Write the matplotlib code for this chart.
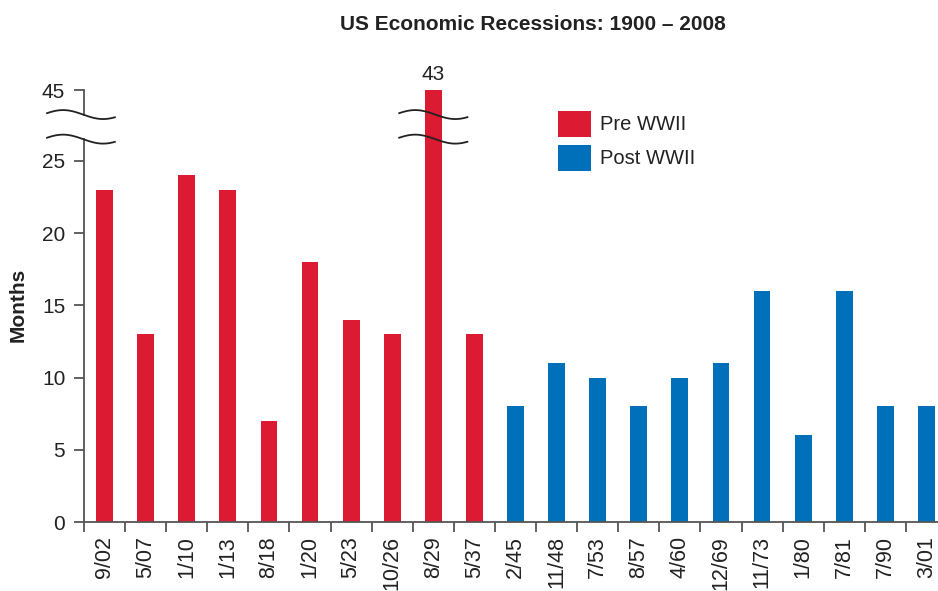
import numpy as np
import matplotlib
matplotlib.use('Agg')
import matplotlib.pyplot as plt
from matplotlib.patches import Rectangle

plt.rcParams['font.family'] = ['Liberation Sans', 'DejaVu Sans']

# Data
periods = ['9/02', '5/07', '1/10', '1/13', '8/18', '1/20', '5/23', '10/26', '8/29', '5/37',
           '2/45', '11/48', '7/53', '8/57', '4/60', '12/69', '11/73', '1/80', '7/81', '7/90', '3/01']
months = [23, 13, 24, 23, 7, 18, 14, 13, 43, 13,
          8, 11, 10, 8, 10, 11, 16, 6, 16, 8, 8]
era = ['Pre WWII'] * 10 + ['Post WWII'] * 11

RED = '#DC1A32'
BLUE = '#0070BA'
AX_COL = '#555555'
TXT = '#222222'

W, H = 938, 591

# broken axis: everything above 25 is drawn up to the top of the break section
BREAK_LO = 25
TOP = 29.9          # display position of the "45" tick
GAP = (26.5, 28.2)  # display positions of the break squiggles

months = np.array(months)
disp = np.where(months > BREAK_LO, TOP, months)
x = np.arange(len(periods))
colors = [RED if e == 'Pre WWII' else BLUE for e in era]

fig = plt.figure(figsize=(W / 100, H / 100), dpi=100)
ax = fig.add_axes([84 / W, 69 / H, 863 / W, 432 / H])

ax.bar(x, disp, width=0.41, color=colors, zorder=2)
ax.set_xlim(-0.5, len(periods) - 0.5)
ax.set_ylim(0, TOP)

# value label for the broken bar
for xi, v, d in zip(x, months, disp):
    if v > BREAK_LO:
        ax.text(xi, d + 0.4, str(v), ha='center', va='bottom', fontsize=15,
                color=TXT, clip_on=False)

# spines
for s in ['top', 'right', 'left']:
    ax.spines[s].set_visible(False)
ax.spines['bottom'].set_color(AX_COL)
ax.spines['bottom'].set_linewidth(1.3)

# y-axis line drawn manually with a gap for the break
ax.plot([-0.5, -0.5], [0, GAP[0]], color=AX_COL, lw=1.3, clip_on=False, zorder=3)
ax.plot([-0.5, -0.5], [GAP[1], TOP], color=AX_COL, lw=1.3, clip_on=False, zorder=3)

yt = [0, 5, 10, 15, 20, 25, TOP]
ax.set_yticks(yt)
ax.set_yticklabels(['0', '5', '10', '15', '20', '25', '45'])
ax.tick_params(axis='y', direction='out', length=7, width=1.3, color=AX_COL,
               labelsize=15, labelcolor=TXT, pad=6.5)

# x ticks at category boundaries, labels at bar centres
ax.set_xticks(np.arange(len(periods) + 1) - 0.5)
ax.set_xticklabels([])
ax.set_xticks(x, minor=True)
ax.set_xticklabels(periods, minor=True, rotation=90, va='top', ha='center')
ax.tick_params(axis='x', which='major', direction='out', length=7.5, width=1.3, color=AX_COL)
ax.tick_params(axis='x', which='minor', length=0, labelsize=15.5, labelcolor=TXT, pad=10)


def squiggle(x0, x1, yc):
    xs = np.linspace(x0, x1, 100)
    peak = x0 + 0.39
    ys = yc + 0.31 * np.cos(2 * np.pi * (xs - peak) / 1.95)
    ax.plot(xs, ys, color=TXT, lw=1.3, clip_on=False, zorder=4)


for yc in GAP:
    squiggle(-1.4, 0.25, yc)
    squiggle(8 - 0.83, 8 + 0.83, yc)

fig.text(18 / W, 1 - 305 / H, 'Months', rotation=90, ha='center', va='center',
         fontsize=15, fontweight='bold', color=TXT)

fig.text(533 / W, 1 - 24 / H, 'US Economic Recessions: 1900 \u2013 2008', ha='center',
         va='center', fontsize=15, fontweight='bold', color=TXT)

# legend, drawn as patches + text in figure coordinates
for i, (lab, col) in enumerate([('Pre WWII', RED), ('Post WWII', BLUE)]):
    top = 111 + 34 * i
    fig.patches.append(Rectangle((558 / W, 1 - (top + 26) / H), 33 / W, 26 / H,
                                 transform=fig.transFigure, facecolor=col, edgecolor='none'))
    fig.text(600 / W, 1 - (top + 13) / H, lab, ha='left', va='center',
             fontsize=14.5, color=TXT)

fig.savefig('out.png', dpi=100)
